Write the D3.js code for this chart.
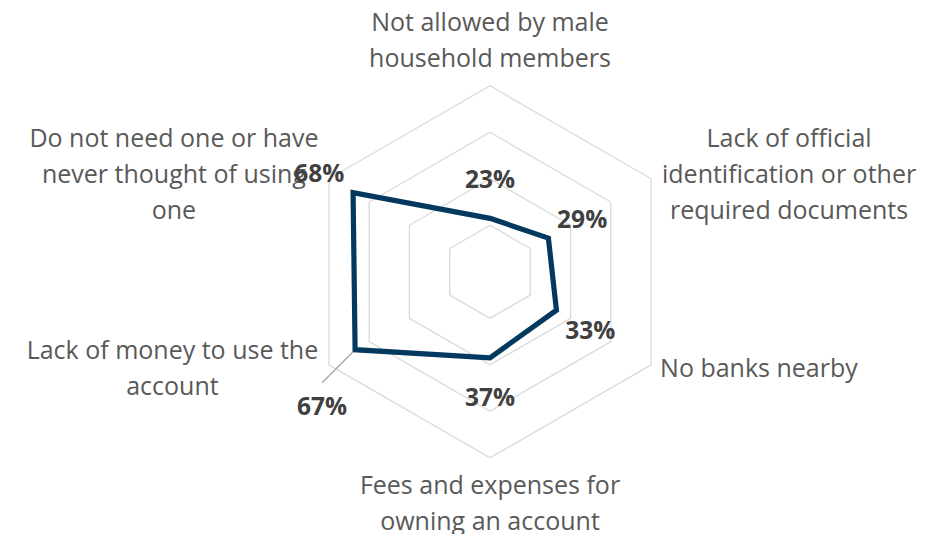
<!DOCTYPE html>
<html>
<head>
<meta charset="utf-8">
<script src="https://cdn.jsdelivr.net/npm/d3@7/dist/d3.min.js"></script>
<style>
  html, body { margin: 0; padding: 0; background: #fff; }
  svg { display: block; }
</style>
</head>
<body>
<svg id="chart" width="941" height="534"></svg>
<script>
// Reasons for not having an account (share of respondents)
const categoryLines = [
  ["Not allowed by male", "household members"],
  ["Lack of official", "identification or other", "required documents"],
  ["No banks nearby"],
  ["Fees and expenses for", "owning an account"],
  ["Lack of money to use the", "account"],
  ["Do not need one or have", "never thought of using", "one"]
];
const values = [0.23, 0.29, 0.33, 0.37, 0.67, 0.68];
const gridTicks = [0.2, 0.4, 0.6, 0.8];
const maxValue = 0.8;

const svg = d3.select("#chart");
const cx = 490, cy = 271.8, R = 186;
const n = categoryLines.length;

const r = d3.scaleLinear().domain([0, maxValue]).range([0, R]);
const angle = d3.scaleLinear().domain([0, n]).range([0, 2 * Math.PI]);

const g = svg.append("g").attr("transform", `translate(${cx},${cy})`);

const radial = d3.lineRadial()
  .angle((d, i) => angle(i))
  .curve(d3.curveLinearClosed);

// hexagonal gridlines
g.selectAll("path.grid")
  .data(gridTicks)
  .join("path")
  .attr("class", "grid")
  .attr("d", t => radial.radius(() => r(t))(d3.range(n)))
  .attr("fill", "none")
  .attr("stroke", "#d9d9d9")
  .attr("stroke-width", 1.3);

// series outline
g.append("path")
  .datum(values)
  .attr("d", radial.radius(d => r(d)))
  .attr("fill", "none")
  .attr("stroke", "#04395f")
  .attr("stroke-width", 5.2)
  .attr("stroke-linejoin", "miter");

const polar = (v, i) => {
  const a = angle(i);
  return [r(v) * Math.sin(a), -r(v) * Math.cos(a)];
};

// category labels, placed relative to the outer vertex of each spoke
const labelLayout = [
  { dx: 0, dy: -55, anchor: "middle" },
  { dx: 138, dy: -32, anchor: "middle" },
  { dx: 9, dy: 12, anchor: "start" },
  { dx: 0, dy: 36, anchor: "middle" },
  { dx: -156.5, dy: -6, anchor: "middle" },
  { dx: -155, dy: -32, anchor: "middle" }
];
const lineGap = 36;

categoryLines.forEach((lines, i) => {
  const [vx, vy] = polar(maxValue, i);
  const L = labelLayout[i];
  const t = g.append("text")
    .attr("font-family", "'Open Sans', sans-serif")
    .attr("font-size", 25)
    .attr("fill", "#595959")
    .attr("text-anchor", L.anchor);
  lines.forEach((line, k) => {
    t.append("tspan")
      .attr("x", vx + L.dx)
      .attr("y", vy + L.dy + k * lineGap)
      .text(line);
  });
});

// value labels, pushed outward along each spoke
const pad = 39;
const nudges = { 4: [-33, 56] };
values.forEach((v, i) => {
  const [px, py] = polar(v, i);
  const a = angle(i);
  let lx = px + pad * Math.sin(a);
  let ly = py - pad * Math.cos(a);
  if (nudges[i]) {
    lx = px + nudges[i][0];
    ly = py + nudges[i][1];
    // leader line back to the point
    g.append("line")
      .attr("x1", px - 2).attr("y1", py + 2)
      .attr("x2", lx).attr("y2", ly - 23)
      .attr("stroke", "#a6a6a6")
      .attr("stroke-width", 1.3);
  }
  g.append("text")
    .attr("x", lx)
    .attr("y", ly + 9)
    .attr("text-anchor", "middle")
    .attr("font-family", "'Open Sans', sans-serif")
    .attr("font-weight", "bold")
    .attr("font-size", 24.5)
    .attr("fill", "#404040")
    .text(d3.format(".0%")(v));
});
</script>
</body>
</html>
